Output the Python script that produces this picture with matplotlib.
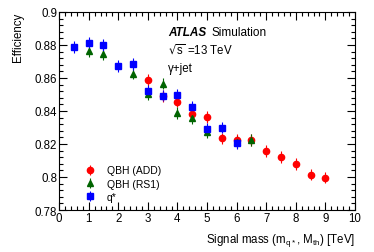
import matplotlib
matplotlib.use("Agg")
import matplotlib.pyplot as plt
from matplotlib.ticker import MultipleLocator

plt.rcParams['font.family'] = ['Liberation Sans', 'DejaVu Sans']

# QBH (ADD)
add_mass = [3, 3.5, 4, 4.5, 5, 5.5, 6, 6.5, 7, 7.5, 8, 8.5, 9]
add_eff = [0.8588, 0.849, 0.8457, 0.838, 0.8362, 0.8234, 0.8226, 0.8224, 0.8157, 0.812, 0.8077, 0.8014, 0.7996]
add_err = [0.0035] * len(add_mass)

# QBH (RS1)
rs1_mass = [1, 1.5, 2.5, 3, 3.5, 4, 4.5, 5, 6, 6.5]
rs1_eff = [0.8764, 0.8744, 0.8626, 0.8502, 0.8566, 0.8388, 0.8358, 0.8271, 0.8212, 0.8224]
rs1_err = [0.0035] * len(rs1_mass)

# q*
qs_mass = [0.5, 1, 1.5, 2, 2.5, 3, 3.5, 4, 4.5, 5, 5.5, 6]
qs_eff = [0.8786, 0.881, 0.880, 0.8673, 0.8683, 0.852, 0.8493, 0.8497, 0.8424, 0.8289, 0.8299, 0.8206]
qs_err = [0.0035] * len(qs_mass)

fig = plt.figure(figsize=(3.74, 2.53), dpi=100)
ax = fig.add_axes([0.158, 0.166, 0.791, 0.783])

ax.errorbar(add_mass, add_eff, yerr=add_err, fmt='o', color='red', ms=4.5,
            elinewidth=0.8, capsize=0, label='QBH (ADD)')
ax.errorbar(rs1_mass, rs1_eff, yerr=rs1_err, fmt='^', color='#006400', ms=4.5,
            elinewidth=0.8, capsize=0, label='QBH (RS1)')
ax.errorbar(qs_mass, qs_eff, yerr=qs_err, fmt='s', color='blue', ms=4.5,
            elinewidth=0.8, capsize=0, label='q*')

ax.set_xlim(0, 10)
ax.set_ylim(0.78, 0.9)
ax.xaxis.set_major_locator(MultipleLocator(1))
ax.xaxis.set_minor_locator(MultipleLocator(0.2))
ax.yaxis.set_minor_locator(MultipleLocator(0.004))
ax.set_yticks([0.78, 0.8, 0.82, 0.84, 0.86, 0.88, 0.9])
ax.set_yticklabels(['0.78', '0.8', '0.82', '0.84', '0.86', '0.88', '0.9'])
ax.tick_params(which='both', direction='in', top=True, right=True, labelsize=8.3, pad=1.5)
ax.tick_params(which='major', length=6, width=0.8)
ax.tick_params(which='minor', length=3, width=0.8)
for s in ax.spines.values():
    s.set_linewidth(0.8)

ax.set_xlabel(r'Signal mass (m$_{\mathregular{q*}}$, M$_{\mathregular{th}}$) [TeV]', fontsize=8.3, loc='right')
ax.set_ylabel('Efficiency', fontsize=8.3, loc='top')
ax.xaxis.set_label_coords(1.0, -0.105)
ax.yaxis.set_label_coords(-0.12, 1.0)

ax.text(0.368, 0.899, 'ATLAS', transform=ax.transAxes, fontsize=8.5,
        fontweight='bold', fontstyle='italic', va='center')
ax.text(0.515, 0.899, 'Simulation', transform=ax.transAxes, fontsize=8.5, va='center')
ax.text(0.368, 0.808, r'$\sqrt{\mathregular{s}}$ =13 TeV', transform=ax.transAxes, fontsize=8.3, va='center')
ax.text(0.368, 0.717, 'γ+jet', transform=ax.transAxes, fontsize=8.3, va='center')

ax.legend(loc='lower left', bbox_to_anchor=(0.06, 0.005), frameon=False,
          fontsize=7.5, handlelength=1.2, handletextpad=1.0, labelspacing=0.3,
          borderpad=0.2)

fig.savefig('out.png', dpi=100)
